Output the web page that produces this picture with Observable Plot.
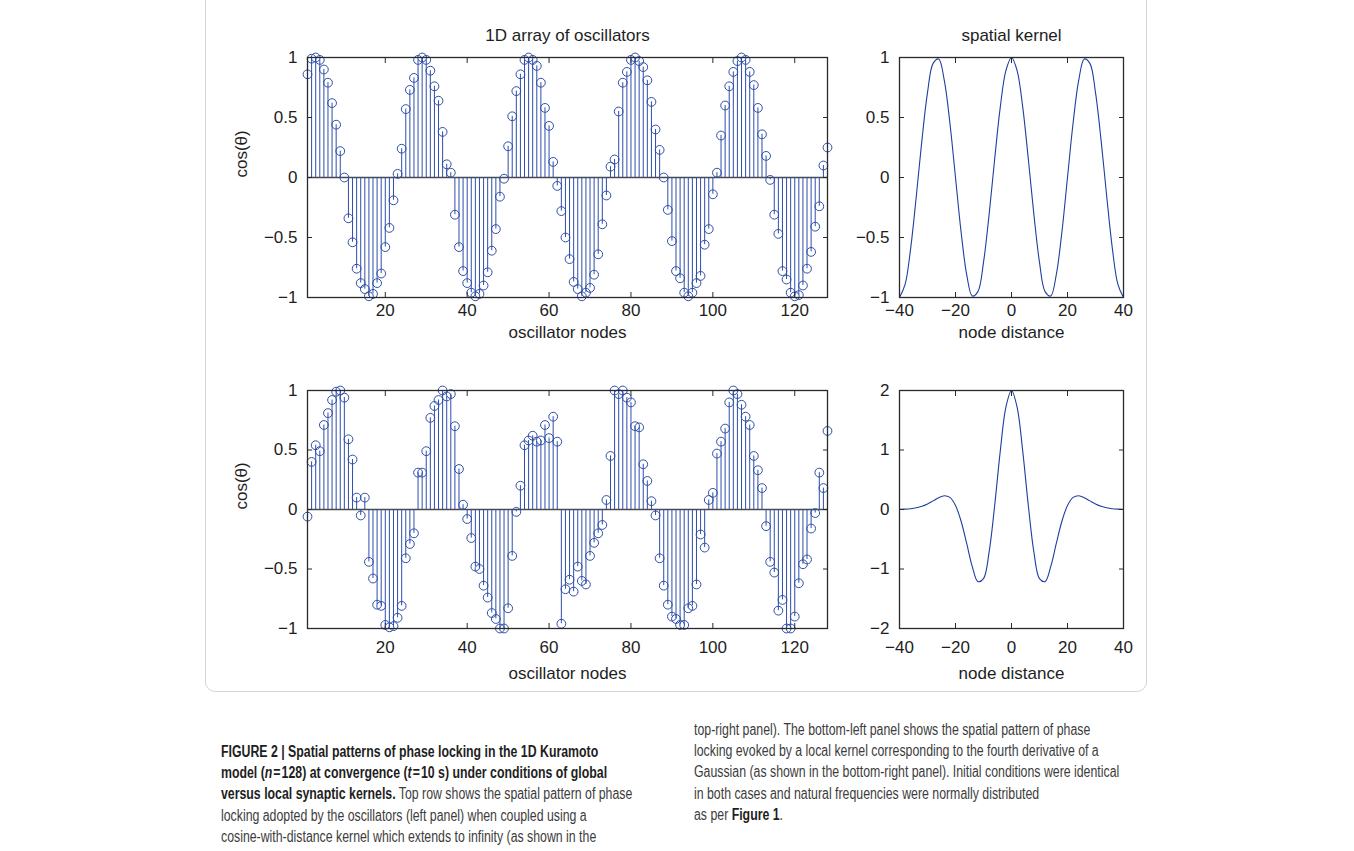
<!DOCTYPE html>
<html><head><meta charset="utf-8">
<script src="https://cdn.jsdelivr.net/npm/d3@7"></script>
<script src="https://cdn.jsdelivr.net/npm/@observablehq/plot@0.6"></script>
<style>
html,body{margin:0;padding:0;background:#fff;}
body{width:1354px;height:851px;position:relative;overflow:hidden;font-family:"Liberation Sans",Arial,sans-serif;}
.panel{position:absolute;}
.box{position:absolute;left:205px;top:-12px;width:940px;height:702px;border:1px solid #d4d4d4;border-radius:10px;}
.cap{position:absolute;font-size:15.6px;color:#3c3c3c;white-space:nowrap;transform-origin:0 0;transform:scaleX(0.79);}
.cap b{color:#1e1e1e;}
</style></head><body>
<div class="box"></div>
<div id="tl" class="panel" style="left:220px;top:0px"></div>
<div id="tr" class="panel" style="left:860px;top:0px"></div>
<div id="bl" class="panel" style="left:220px;top:350px"></div>
<div id="br" class="panel" style="left:860px;top:350px"></div>
<div id="caption"></div>
<script>
// ---------- data ----------
const nodeTicks = [20, 40, 60, 80, 100, 120];
const cosTicks = [-1, -0.5, 0, 0.5, 1];
const distTicks = [-40, -20, 0, 20, 40];
const kernel2Ticks = [-2, -1, 0, 1, 2];

// top row: cos(theta) of the 128 oscillators (cosine kernel)
const phaseGlobal = [
  0.86, 0.99, 1.0, 0.98, 0.90, 0.79, 0.62, 0.44, 0.22, 0.0,
  -0.34, -0.54, -0.76, -0.88, -0.93, -0.99, -0.97, -0.88, -0.80, -0.58,
  -0.42, -0.19, 0.03, 0.24, 0.57, 0.73, 0.83, 0.98, 1.0, 0.98,
  0.89, 0.76, 0.64, 0.38, 0.11, 0.04, -0.31, -0.58, -0.78, -0.88,
  -0.96, -0.99, -0.97, -0.90, -0.79, -0.61, -0.43, -0.16, -0.01, 0.26,
  0.51, 0.72, 0.86, 0.98, 1.0, 0.98, 0.93, 0.79, 0.58, 0.43,
  0.13, -0.07, -0.28, -0.50, -0.68, -0.87, -0.93, -0.99, -0.96, -0.92,
  -0.81, -0.64, -0.39, -0.15, 0.09, 0.15, 0.55, 0.79, 0.88, 0.98,
  1.0, 0.97, 0.92, 0.81, 0.63, 0.40, 0.23, 0.0, -0.27, -0.53,
  -0.78, -0.84, -0.96, -0.99, -0.96, -0.88, -0.82, -0.56, -0.43, -0.14,
  0.04, 0.35, 0.60, 0.76, 0.88, 0.97, 1.0, 0.98, 0.88, 0.77,
  0.58, 0.36, 0.18, -0.02, -0.31, -0.47, -0.78, -0.85, -0.96, -0.99,
  -0.98, -0.90, -0.76, -0.62, -0.41, -0.24, 0.10, 0.25
];

// bottom row: cos(theta) of the 128 oscillators (4th-derivative-of-Gaussian kernel)
const phaseLocal = [
  -0.06, 0.40, 0.54, 0.49, 0.71, 0.81, 0.92, 0.99, 1.0, 0.94,
  0.59, 0.42, 0.10, -0.05, 0.10, -0.44, -0.58, -0.80, -0.81, -0.97,
  -0.99, -0.98, -0.91, -0.81, -0.41, -0.29, -0.20, 0.31, 0.31, 0.49,
  0.77, 0.87, 0.92, 1.0, 0.95, 0.97, 0.70, 0.34, 0.04, -0.08,
  -0.24, -0.48, -0.50, -0.64, -0.74, -0.87, -0.92, -1.0, -1.0, -0.83,
  -0.39, -0.02, 0.20, 0.54, 0.58, 0.62, 0.57, 0.58, 0.71, 0.60,
  0.78, 0.57, -0.96, -0.67, -0.59, -0.69, -0.48, -0.60, -0.63, -0.39,
  -0.28, -0.20, -0.13, 0.08, 0.45, 1.0, 0.97, 1.0, 0.94, 0.90,
  0.70, 0.69, 0.38, 0.24, 0.07, -0.05, -0.41, -0.64, -0.80, -0.90,
  -0.92, -0.97, -0.97, -0.83, -0.81, -0.63, -0.21, -0.32, 0.08, 0.14,
  0.47, 0.57, 0.68, 0.90, 1.0, 0.97, 0.88, 0.78, 0.71, 0.45,
  0.33, 0.18, -0.14, -0.44, -0.53, -0.85, -0.76, -1.0, -1.0, -0.90,
  -0.62, -0.46, -0.42, -0.16, -0.03, 0.31, 0.18, 0.66
];

// kernels sampled along node distance
const kernelDist = [-40,-38,-36,-34,-32,-30,-28,-26,-24,-22,-20,-18,-16,-14,-12,-10,-8,-6,-4,-2,0,
                    2,4,6,8,10,12,14,16,18,20,22,24,26,28,30,32,34,36,38,40];
const kernelCos = [-1, -0.891, -0.588, -0.156, 0.309, 0.707, 0.951, 0.988, 0.809, 0.454, 0,
                   -0.454, -0.809, -0.988, -0.951, -0.707, -0.309, 0.156, 0.588, 0.891, 1,
                   0.891, 0.588, 0.156, -0.309, -0.707, -0.951, -0.988, -0.809, -0.454, 0,
                   0.454, 0.809, 0.988, 0.951, 0.707, 0.309, -0.156, -0.588, -0.891, -1];
const kernelGauss4 = [0.003, 0.006, 0.013, 0.028, 0.053, 0.093, 0.145, 0.199, 0.232, 0.203, 0.068,
                      -0.197, -0.571, -0.961, -1.212, -1.162, -0.717, 0.071, 0.985, 1.719, 2.0,
                      1.719, 0.985, 0.071, -0.717, -1.162, -1.212, -0.961, -0.571, -0.197, 0.068,
                      0.203, 0.232, 0.199, 0.145, 0.093, 0.053, 0.028, 0.013, 0.006, 0.003];

// ---------- styling ----------
const BLUE = "#2e4eab";
const LINE = "#1f3f9f";
const FONT = "'Liberation Sans', Arial, sans-serif";
const TXT = "#1e1e1e";
const fmt = d => (d < 0 ? "\u2212" : "") + String(Math.abs(d));

function boxAxes(xt, yt, pad) {
  return [
    Plot.frame({stroke: "#2a2a2a", strokeWidth: 1.3}),
    Plot.axisX(xt, {anchor: "bottom", tickSize: -5, tickPadding: pad, tickFormat: fmt, label: null, stroke: "#2a2a2a"}),
    Plot.axisX(xt, {anchor: "top", tickSize: -5, tickFormat: () => "", label: null, stroke: "#2a2a2a"}),
    Plot.axisY(yt, {anchor: "left", tickSize: -5, tickPadding: 15, tickFormat: fmt, label: null, stroke: "#2a2a2a"}),
    Plot.axisY(yt, {anchor: "right", tickSize: -5, tickFormat: () => "", label: null, stroke: "#2a2a2a"})
  ];
}

function stemPanel(values, title, xlab, mt, h, pad, labDy) {
  const data = values.map((v, i) => ({node: i + 1, v}));
  const marks = [
    Plot.ruleY([0], {stroke: "#4a4a4a", strokeWidth: 1.3}),
    Plot.ruleX(data, {x: "node", y1: 0, y2: "v", stroke: BLUE, strokeWidth: 1}),
    Plot.dot(data, {x: "node", y: "v", r: 4.4, stroke: BLUE, strokeWidth: 1, fill: "none"}),
    ...boxAxes(nodeTicks, cosTicks, pad),
    Plot.text([xlab], {frameAnchor: "bottom", dy: labDy, lineAnchor: "middle", fontSize: 17, fill: TXT}),
    Plot.text(["cos(θ)"], {frameAnchor: "left", dx: -66, rotate: -90, fontSize: 17, fill: TXT})
  ];
  if (title) marks.push(Plot.text([title], {frameAnchor: "top", dy: -22, lineAnchor: "middle", fontSize: 17, fill: TXT}));
  return Plot.plot({
    width: 620, height: 350, marginLeft: 87, marginRight: 13, marginTop: mt, marginBottom: 350 - mt - h,
    x: {domain: [1, 128]}, y: {domain: [-1, 1]},
    style: {fontFamily: FONT, fontSize: "17px", color: TXT, background: "transparent", overflow: "visible"},
    marks
  });
}

function kernelPanel(ks, yd, yt, title, mt, h, pad, labDy) {
  const data = kernelDist.map((d, i) => ({d, k: ks[i]}));
  const marks = [
    Plot.line(data, {x: "d", y: "k", stroke: LINE, strokeWidth: 1.1, curve: "catmull-rom"}),
    ...boxAxes(distTicks, yt, pad),
    Plot.text(["node distance"], {frameAnchor: "bottom", dy: labDy, lineAnchor: "middle", fontSize: 17, fill: TXT})
  ];
  if (title) marks.push(Plot.text([title], {frameAnchor: "top", dy: -22, lineAnchor: "middle", fontSize: 17, fill: TXT}));
  return Plot.plot({
    width: 280, height: 350, marginLeft: 39, marginRight: 17, marginTop: mt, marginBottom: 350 - mt - h,
    x: {domain: [-40, 40]}, y: {domain: yd},
    style: {fontFamily: FONT, fontSize: "17px", color: TXT, background: "transparent", overflow: "visible"},
    marks
  });
}

document.getElementById("tl").append(stemPanel(phaseGlobal, "1D array of oscillators", "oscillator nodes", 57, 240, 11, 35));
document.getElementById("bl").append(stemPanel(phaseLocal, null, "oscillator nodes", 40, 238, 17, 45));
document.getElementById("tr").append(kernelPanel(kernelCos, [-1, 1], cosTicks, "spatial kernel", 57, 240, 11, 35));
document.getElementById("br").append(kernelPanel(kernelGauss4, [-2, 2], kernel2Ticks, null, 40, 238, 17, 45));

// ---------- caption ----------
const capLeft = [
  '<b>FIGURE 2 | Spatial patterns of phase locking in the 1D Kuramoto</b>',
  '<b>model (<i>n</i>&#8202;=&#8202;128) at convergence (<i>t</i>&#8202;=&#8202;10 s) under conditions of global</b>',
  '<b>versus local synaptic kernels.</b> Top row shows the spatial pattern of phase',
  'locking adopted by the oscillators (left panel) when coupled using a',
  'cosine-with-distance kernel which extends to infinity (as shown in the'
];
const capRight = [
  'top-right panel). The bottom-left panel shows the spatial pattern of phase',
  'locking evoked by a local kernel corresponding to the fourth derivative of a',
  'Gaussian (as shown in the bottom-right panel). Initial conditions were identical',
  'in both cases and natural frequencies were normally distributed',
  'as per <b>Figure 1</b>.'
];
const cap = document.getElementById("caption");
capLeft.forEach((t, i) => {
  const d = document.createElement("div");
  d.className = "cap"; d.innerHTML = t;
  d.style.left = "221px"; d.style.top = (743 + i * 21.2) + "px";
  cap.append(d);
});
capRight.forEach((t, i) => {
  const d = document.createElement("div");
  d.className = "cap"; d.innerHTML = t;
  d.style.left = "694px"; d.style.top = (721 + i * 21.2) + "px";
  cap.append(d);
});
</script>
</body></html>
